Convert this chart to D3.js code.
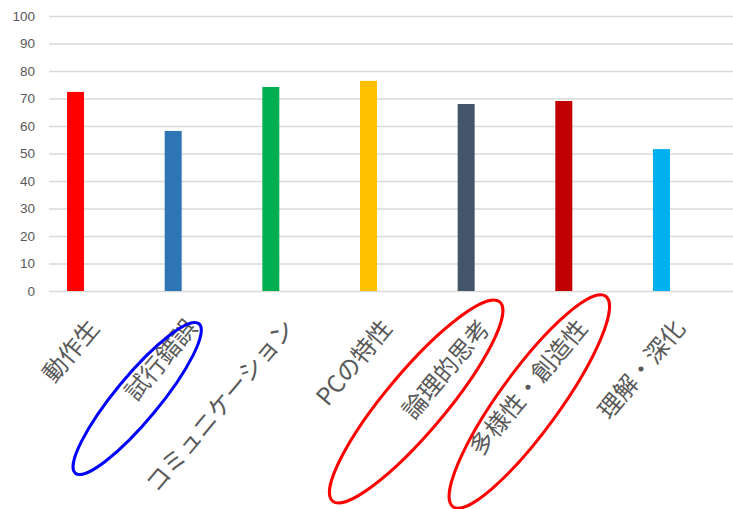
<!DOCTYPE html>
<html>
<head>
<meta charset="utf-8">
<script src="https://cdn.jsdelivr.net/npm/d3@7"></script>
<style>
  html, body { margin: 0; padding: 0; background: #fff; }
</style>
</head>
<body>
<div id="chart"></div>
<script>
// chart data
const categories = ["動作生", "試行錯誤", "コミュニケーション", "PCの特性", "論理的思考", "多様性・創造性", "理解・深化"];
const values = [72.4, 58.2, 74.2, 76.4, 68.0, 69.1, 51.6];
const barColors = ["#FF0000", "#2E75B6", "#00B050", "#FFC000", "#44546A", "#C00000", "#00B0F0"];
const yTicks = [0, 10, 20, 30, 40, 50, 60, 70, 80, 90, 100];

// hand drawn circles over some labels
const circled = ["試行錯誤", "論理的思考", "多様性・創造性"];
const circleColors = ["#0000FF", "#FF0000", "#FF0000"];

const width = 733, height = 509;

const svg = d3.select("#chart")
  .append("svg")
    .attr("width", width)
    .attr("height", height)
    .attr("viewBox", `0 0 ${width} ${height}`);

// scales
const x = d3.scaleBand()
    .domain(categories)
    .range([26.7, 710.3])
    .paddingInner(0.826)
    .paddingOuter(0.413);

const y = d3.scaleLinear()
    .domain([0, 100])
    .range([291, 16]);

// grid + y labels
const yAxis = svg.append("g")
    .attr("transform", "translate(49,0)")
    .call(d3.axisLeft(y)
      .tickValues(yTicks)
      .tickSize(-(width - 49))
      .tickPadding(14));

yAxis.select(".domain").remove();
yAxis.selectAll(".tick line")
    .attr("stroke", "#d9d9d9")
    .attr("stroke-width", 1.4);
yAxis.selectAll(".tick text")
    .attr("fill", "#595959")
    .style("font-family", "'Liberation Sans', Arial, sans-serif")
    .style("font-size", "13.5px");

// bars
svg.append("g")
  .selectAll("rect")
  .data(categories)
  .join("rect")
    .attr("x", d => x(d))
    .attr("y", (d, i) => y(values[i]))
    .attr("width", x.bandwidth())
    .attr("height", (d, i) => y(0) - y(values[i]))
    .attr("fill", (d, i) => barColors[i]);

// category labels, rotated
svg.append("g")
  .selectAll("text")
  .data(categories)
  .join("text")
    .attr("transform", d => `translate(${x(d) + x.bandwidth() / 2 + 17},322) rotate(-50)`)
    .attr("text-anchor", "end")
    .attr("dominant-baseline", "central")
    .attr("fill", "#595959")
    .style("font-family", "'Noto Sans CJK JP', sans-serif")
    .style("font-size", "24px")
    .text(d => d);

// ellipses (annotation drawn on top of the chart)
const ellipseShape = {
  "試行錯誤":      { dx: -36, dy: 107.5, rx: 97,  ry: 22, angle: -50.4 },
  "論理的思考":    { dx: -50, dy: 110.5, rx: 130, ry: 30, angle: -50 },
  "多様性・創造性": { dx: -34.5, dy: 110.5, rx: 130, ry: 30, angle: -54 }
};

svg.append("g")
  .selectAll("ellipse")
  .data(circled)
  .join("ellipse")
    .attr("transform", d => {
      const s = ellipseShape[d];
      const cx = x(d) + x.bandwidth() / 2 + s.dx;
      const cy = y(0) + s.dy;
      return `translate(${cx},${cy}) rotate(${s.angle})`;
    })
    .attr("rx", d => ellipseShape[d].rx)
    .attr("ry", d => ellipseShape[d].ry)
    .attr("fill", "none")
    .attr("stroke", (d, i) => circleColors[i])
    .attr("stroke-width", 3);
</script>
</body>
</html>
